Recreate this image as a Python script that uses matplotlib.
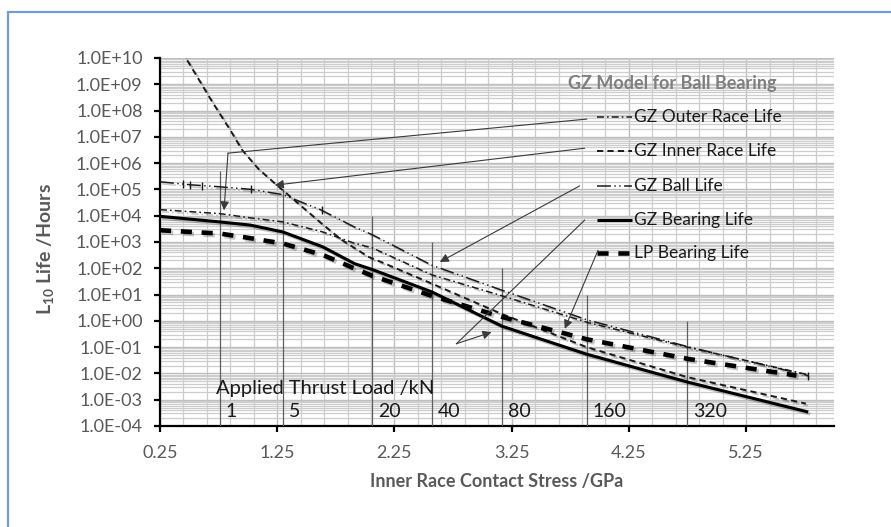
import matplotlib
matplotlib.use("Agg")
import matplotlib.pyplot as plt
import matplotlib.patheffects as pe
import numpy as np
from matplotlib.patches import Rectangle
from matplotlib.ticker import FixedLocator, FuncFormatter, LogLocator, NullFormatter

plt.rcParams["font.family"] = ["Lato", "DejaVu Sans"]
plt.rcParams["mathtext.fontset"] = "custom"
plt.rcParams["mathtext.rm"] = "Lato:bold"
plt.rcParams["mathtext.default"] = "rm"
plt.rcParams["lines.scale_dashes"] = False

# inner race contact stress (GPa) vs L10 life (hours)
stress = [0.25, 0.76, 1.02, 1.30, 1.64, 1.91, 2.06, 2.57, 3.17, 3.89, 4.75, 5.78]
gz_bearing = [9.5e3, 5.8e3, 4.4e3, 2.4e3, 650, 150, 90, 12.6, 0.62, 0.054, 4.7e-3, 3.4e-4]
gz_outer = [1.7e4, 1.2e4, 8.3e3, 5.8e3, 2.4e3, 890, 600, 56, 8.9, 0.89, 0.10, 8.9e-3]

stress_lp = [0.25, 0.76, 1.02, 1.30, 1.64, 1.91, 2.06, 2.57, 3.17, 3.89, 4.75, 5.68]
lp_bearing = [2.8e3, 2.1e3, 1.4e3, 870, 320, 98, 52, 8.9, 1.4, 0.20, 0.036, 8.3e-3]

stress_ball = [0.25, 0.45, 0.51, 0.61, 0.76, 1.03, 1.30, 1.63, 1.91, 2.06, 2.57, 3.17, 3.89, 4.75, 5.78]
gz_ball = [1.95e5, 1.6e5, 1.5e5, 1.4e5, 1.26e5, 1.0e5, 6.3e4, 1.6e4, 3.7e3, 1.9e3, 130, 14.5, 1.1, 0.105, 8.3e-3]

stress_inner = [0.25, 0.49, 0.70, 0.85, 0.95, 1.09, 1.23, 1.43, 1.63, 1.80, 2.03, 2.17, 2.57, 3.17, 3.89, 4.75, 5.76]
gz_inner = [4e11, 7.2e9, 2e8, 1.8e7, 3.2e6, 6e5, 1.7e5, 2.9e4, 5e3, 1.2e3, 270, 150, 26, 1.8, 0.10, 7.2e-3, 7.1e-4]

# applied thrust load markers
load_kn = ["1", "5", "20", "40", "80", "160", "320"]
load_stress = [0.76, 1.30, 2.06, 2.57, 3.17, 3.89, 4.75]
load_top = [5e5, 1e5, 1e4, 1e3, 1e2, 1e1, 1e0]

W, H = 891, 527
fig = plt.figure(figsize=(W / 100, H / 100), dpi=100)
ax = fig.add_axes([160 / W, 101 / H, 674 / W, 368 / H])

shadow = [pe.SimpleLineShadow(offset=(1.5, -1.5), shadow_color="k", alpha=0.22), pe.Normal()]

series = [
    ("GZ Outer Race Life", stress, gz_outer,
     dict(color="#1a1a1a", lw=1.1, dashes=(5, 2.2, 1.2, 2.2))),
    ("GZ Inner Race Life", stress_inner, gz_inner,
     dict(color="#1a1a1a", lw=1.4, dashes=(4.5, 3))),
    ("GZ Ball Life", stress_ball, gz_ball,
     dict(color="#1a1a1a", lw=1.1, dashes=(10, 2.5, 1, 2.5, 1, 2.5))),
    ("GZ Bearing Life", stress, gz_bearing,
     dict(color="#000000", lw=2.2)),
    ("LP Bearing Life", stress_lp, lp_bearing,
     dict(color="#000000", lw=3.3, dashes=(8, 7))),
]

for name, xs, ys, style in series:
    ax.plot(xs, ys, solid_capstyle="butt", dash_capstyle="butt",
            path_effects=shadow, zorder=4, **style)

# small tick marks sitting on the ball life curve
ax.plot(stress_ball, gz_ball, ls="none", marker="|", ms=6, mew=1.0, color="#1a1a1a",
        markevery=[1, 2, 3, 5, 7, 14], zorder=4)

# load lines and labels
ax.vlines(load_stress, 1e-4, load_top, color="#5f5f5f", lw=0.9, zorder=3)
for s, lab in zip(load_stress, load_kn):
    ax.text(s + 0.05, 10 ** -3.45, lab, fontsize=14, color="#1a1a1a", va="center", ha="left", zorder=5)
ax.text(0.73, 10 ** -2.57, "Applied Thrust Load /kN", fontsize=14.5, color="#1a1a1a",
        va="center", ha="left", zorder=5)

ax.set_yscale("log")
ax.set_xlim(0.25, 6.0)
ax.set_ylim(1e-4, 1e10)

ax.yaxis.set_major_locator(LogLocator(base=10, numticks=20))
ax.yaxis.set_minor_locator(LogLocator(base=10, subs=np.arange(2, 10), numticks=20))
ax.yaxis.set_major_formatter(FuncFormatter(lambda v, _: f"{v:.1E}"))
ax.yaxis.set_minor_formatter(NullFormatter())
ax.xaxis.set_major_locator(FixedLocator([0.25, 1.25, 2.25, 3.25, 4.25, 5.25]))
ax.xaxis.set_minor_locator(FixedLocator(np.arange(0.25, 6.0, 0.2)))
ax.xaxis.set_major_formatter(FuncFormatter(lambda v, _: f"{v:.2f}"))

ax.set_axisbelow(True)
ax.grid(which="minor", axis="both", color="#cdcdcd", lw=0.9)
ax.grid(which="major", axis="both", color="#bdbdbd", lw=1.0)

for side in ("top", "right"):
    ax.spines[side].set_visible(False)
for side in ("left", "bottom"):
    ax.spines[side].set_linewidth(1.6)
    ax.spines[side].set_color("#000000")
ax.tick_params(which="major", direction="out", length=4.5, width=1.6, color="#000000",
               labelsize=13, labelcolor="#595959")
ax.tick_params(axis="y", which="major", pad=8)
ax.tick_params(axis="x", which="major", pad=9)
ax.tick_params(which="minor", length=0)

# legend drawn by hand, handles to the left of the labels
leg_rows = [117, 150.7, 185.7, 220, 253.3]
for (name, xs, ys, style), py in zip(series, leg_rows):
    yf = (426 - py) / 368
    ax.plot([(597 - 160) / 674, (632 - 160) / 674], [yf, yf], transform=ax.transAxes,
            solid_capstyle="butt", dash_capstyle="butt", zorder=5, **style)
    ax.text((634 - 160) / 674, yf, name, transform=ax.transAxes, fontsize=12.5,
            color="#1a1a1a", va="center", ha="left", zorder=5)
ax.text((672 - 160) / 674, (426 - 83) / 368, "GZ Model for Ball Bearing", transform=ax.transAxes,
        fontsize=13, fontweight="bold", color="#7f7f7f", va="center", ha="center", zorder=5)

# pointer lines from legend entries to curves
arrow = dict(arrowstyle="-|>", color="#3a3a3a", lw=0.8, mutation_scale=13, shrinkA=0, shrinkB=0)
thin = dict(color="#3a3a3a", lw=0.8, zorder=5)
ax.plot([3.89, 0.83], [4.74e7, 2.4e6], **thin)
ax.annotate("", xy=(0.796, 1.6e4), xytext=(0.83, 2.4e6), arrowprops=arrow, zorder=5)
ax.annotate("", xy=(1.23, 1.45e5), xytext=(3.873, 3.7e6), arrowprops=arrow, zorder=5)
ax.annotate("", xy=(2.637, 174), xytext=(3.83, 1.36e5), arrowprops=arrow, zorder=5)
ax.plot([3.873, 2.779], [6.8e3, 0.135], **thin)
ax.annotate("", xy=(3.078, 0.37), xytext=(2.779, 0.135), arrowprops=arrow, zorder=5)
ax.annotate("", xy=(3.703, 0.5), xytext=(3.987, 485), arrowprops=arrow, zorder=5)

fig.text(45 / W, 1 - 249 / H, r"L$_{10}$ Life /Hours", rotation=90, ha="center", va="center",
         fontsize=14, fontweight="bold", color="#595959")
fig.text(497 / W, 1 - 481 / H, "Inner Race Contact Stress /GPa", ha="center", va="center",
         fontsize=13, fontweight="bold", color="#595959")

fig.add_artist(Rectangle((8 / W, -0.1), 1.2, 1 - 12 / H + 0.1, transform=fig.transFigure,
                         fill=False, edgecolor="#6f9dd8", lw=1.6))

fig.savefig("out.png", dpi=100)
